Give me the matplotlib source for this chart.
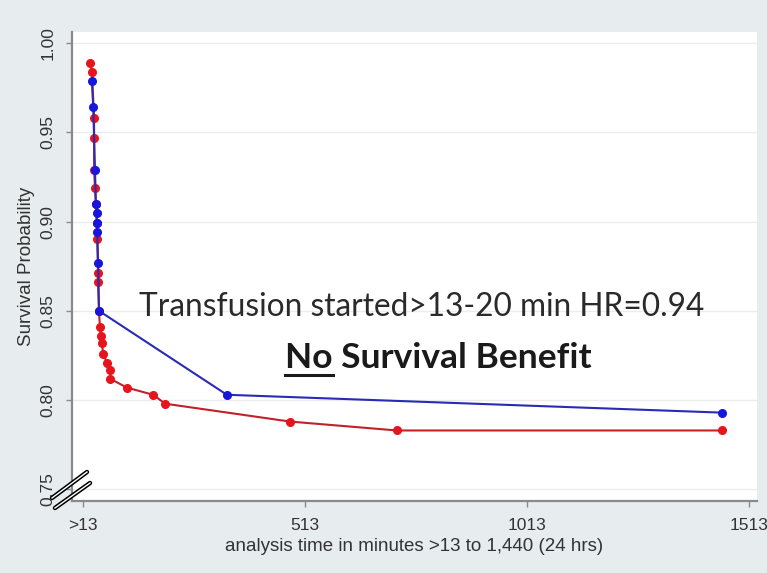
import matplotlib
matplotlib.use('Agg')
import matplotlib.pyplot as plt
from matplotlib.lines import Line2D

# Kaplan-Meier estimates, minutes after arrival (>13) vs survival probability
red_t = [29, 33, 38, 38, 38, 40, 42, 44, 45, 47, 47, 49, 51, 53, 56, 58, 67, 74, 74, 112, 171, 198, 479, 720, 1452]
red_s = [0.989, 0.984, 0.958, 0.947, 0.929, 0.919, 0.910, 0.899, 0.890, 0.871, 0.866, 0.850, 0.841, 0.836,
         0.832, 0.826, 0.821, 0.817, 0.812, 0.807, 0.803, 0.798, 0.788, 0.783, 0.783]

blue_t = [33, 36, 40, 42, 44, 44, 45, 47, 49, 337, 1452]
blue_s = [0.979, 0.964, 0.929, 0.910, 0.905, 0.899, 0.894, 0.877, 0.850, 0.803, 0.793]

yticks = [0.75, 0.80, 0.85, 0.90, 0.95, 1.00]
xticks = [13, 513, 1013, 1513]
xticklabels = ['>13', '513', '1013', '1513']

W, H = 767, 573
fig = plt.figure(figsize=(W / 100, H / 100), dpi=100, facecolor='#e7edef')
ax = fig.add_axes([72 / W, 1 - 501 / H, (757 - 72) / W, (501 - 32) / H])
ax.set_facecolor('white')

ax.plot(red_t, red_s, color='#bf2229', lw=1.5, marker='o', ms=5.5,
        mfc='#e8141c', mec='#e8141c', zorder=3)
ax.plot(blue_t, blue_s, color='#2a2ab4', lw=1.5, marker='o', ms=5.5,
        mfc='#1616dc', mec='#1616dc', zorder=4)

ax.set_xlim(-11.8, 1531)
ax.set_ylim(0.7435, 1.0062)

sans = ['Liberation Sans', 'DejaVu Sans']
ax.set_yticks(yticks)
ax.set_yticklabels(['%.2f' % v for v in yticks], rotation=90, va='center',
                   family=sans, size=12.5, color='#333333')
ax.set_xticks(xticks)
ax.set_xticklabels(xticklabels, family=sans, size=12.5, color='#333333')
ax.tick_params(axis='both', direction='out', length=4.5, width=1, color='#8a8a8a')
ax.tick_params(axis='y', pad=7.5)
ax.tick_params(axis='x', pad=8)
ax.yaxis.grid(True, color='#ececec', lw=1)
ax.set_axisbelow(True)

for side in ['top', 'right']:
    ax.spines[side].set_visible(False)
for side in ['left', 'bottom']:
    ax.spines[side].set_color('#8a8a8a')
    ax.spines[side].set_linewidth(1.6)

ax.set_ylabel('Survival Probability', labelpad=4, family=sans, size=13.5, color='#333333')
ax.set_xlabel('analysis time in minutes >13 to 1,440 (24 hrs)', labelpad=3.5,
              family=sans, size=13.5, color='#333333')

# annotation text
ax.text(0.510, 1 - (307 - 32) / (501 - 32), 'Transfusion started>13-20 min HR=0.94',
        transform=ax.transAxes, ha='center', va='center', fontsize=22.8,
        family=['Lato', 'DejaVu Sans'], color='#2a2a2a')
t2 = ax.text(0.535, 1 - (358 - 32) / (501 - 32), 'No Survival Benefit',
             transform=ax.transAxes, ha='center', va='center', fontsize=25.5,
             fontweight='bold', family=['Lato', 'DejaVu Sans'], color='#1a1a1a')

# underline the word "No"
fig.canvas.draw()
r = fig.canvas.get_renderer()
bb = t2.get_window_extent(r)
tmp = ax.text(0, 0, 'No', fontsize=25.5, fontweight='bold', family=['Lato', 'DejaVu Sans'])
wno = tmp.get_window_extent(r).width
tmp.remove()
uy = bb.y0 - 1
fig.add_artist(Line2D([bb.x0 / W, (bb.x0 + wno) / W], [uy / H, uy / H],
                      transform=fig.transFigure, color='#1a1a1a', lw=2.2))

# axis break marks at the origin
for (x1, y1, x2, y2) in [(52, 498, 87, 472), (55, 508, 90, 483)]:
    fig.add_artist(Line2D([x1 / W, x2 / W], [1 - y1 / H, 1 - y2 / H],
                          transform=fig.transFigure, color='black', lw=3.2,
                          solid_capstyle='round'))
    fig.add_artist(Line2D([x1 / W, x2 / W], [1 - y1 / H, 1 - y2 / H],
                          transform=fig.transFigure, color='white', lw=1.0))

fig.savefig('out.png', dpi=100, facecolor=fig.get_facecolor())
